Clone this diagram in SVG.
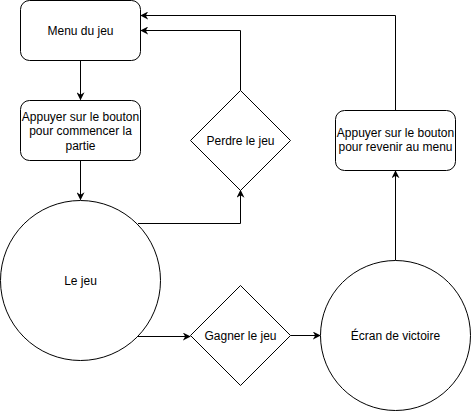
<svg xmlns="http://www.w3.org/2000/svg" width="471" height="411" viewBox="0 0 471 411">
<style>
.n{fill:#fff;stroke:#000;stroke-width:1}
.t{font-family:"Liberation Sans",Arial,sans-serif;font-size:12px;fill:#000;text-anchor:middle}
.c{fill:none;stroke:#000;stroke-width:1}
</style>
<defs>
<marker id="a" viewBox="0 0 10 10" refX="9" refY="5" markerWidth="8" markerHeight="8" markerUnits="userSpaceOnUse" orient="auto">
<path d="M0,0 L10,5 L0,10 L3,5 Z" fill="#000"/>
</marker>
</defs>
<rect width="471" height="411" fill="#fff"/>
<g id="connectors">
<path class="c" d="M80.5,60.5 V99.5" marker-end="url(#a)"/>
<path class="c" d="M80.5,160.5 V199.5" marker-end="url(#a)"/>
<path class="c" d="M138,223.5 H240.5 V190.5" marker-end="url(#a)"/>
<path class="c" d="M240.5,90.5 V30.5 H141" marker-end="url(#a)"/>
<path class="c" d="M138,336.5 H190" marker-end="url(#a)"/>
<path class="c" d="M290.5,335.5 H320" marker-end="url(#a)"/>
<path class="c" d="M395.5,260.5 V171" marker-end="url(#a)"/>
<path class="c" d="M395.5,110.5 V15.5 H141" marker-end="url(#a)"/>
</g>
<g id="menu">
<rect class="n" x="20.5" y="0.5" width="120" height="60" rx="9"/>
<text class="t" x="80.5" y="34.5">Menu du jeu</text>
</g>
<g id="start">
<rect class="n" x="20.5" y="100.5" width="120" height="60" rx="9"/>
<text class="t" x="80.5" y="121">Appuyer sur le bouton</text>
<text class="t" x="80.5" y="135">pour commencer la</text>
<text class="t" x="80.5" y="150">partie</text>
</g>
<g id="jeu">
<circle class="n" cx="80.5" cy="280.5" r="80"/>
<text class="t" x="80.5" y="284.5">Le jeu</text>
</g>
<g id="perdre">
<path class="n" d="M240.5,90.5 L290.5,140.5 L240.5,190.5 L190.5,140.5 Z"/>
<text class="t" x="240.5" y="144.5">Perdre le jeu</text>
</g>
<g id="gagner">
<path class="n" d="M240.5,285.5 L290.5,335.5 L240.5,385.5 L190.5,335.5 Z"/>
<text class="t" x="240.5" y="339.5">Gagner le jeu</text>
</g>
<g id="victoire">
<circle class="n" cx="395.5" cy="335.5" r="75"/>
<text class="t" x="395.5" y="339.5">Écran de victoire</text>
</g>
<g id="retour">
<rect class="n" x="335.5" y="110.5" width="120" height="60" rx="9"/>
<text class="t" x="395.5" y="137">Appuyer sur le bouton</text>
<text class="t" x="395.5" y="151">pour revenir au menu</text>
</g>
</svg>
